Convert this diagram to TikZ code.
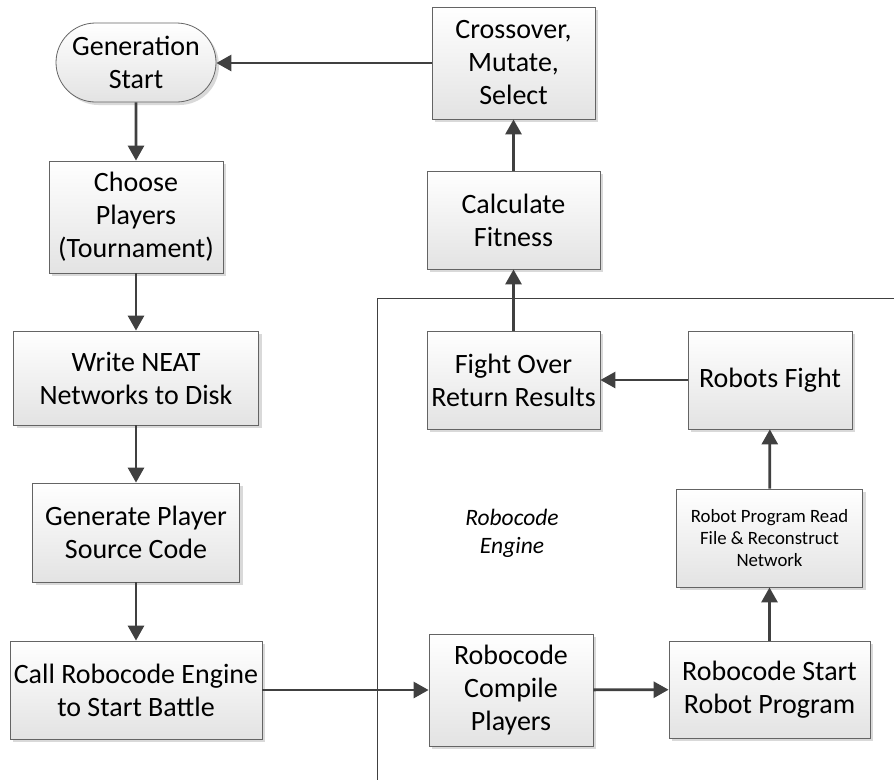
\documentclass[tikz,border=0pt]{standalone}
\usepackage{fontspec}
\setmainfont{Carlito}
\usetikzlibrary{shapes.misc,shadows,arrows.meta}

\definecolor{darkline}{RGB}{64,64,64}
\definecolor{boxline}{RGB}{100,100,100}

\tikzset{
	flowbox/.style={draw=boxline, line width=0.8pt, top color=white, bottom color=gray!22,
		drop shadow={shadow xshift=3pt, shadow yshift=-3pt, fill=black!15, opacity=1},
		align=center, inner sep=2pt, font=\fontsize{28}{33}\selectfont},
	smallbox/.style={flowbox, font=\fontsize{18.8}{22}\selectfont},
	flow/.style={-{Triangle[length=15pt,width=16pt]}, line width=2.8pt, draw=darkline},
}

\begin{document}
\begin{tikzpicture}[x=1pt,y=-1pt]
		\useasboundingbox (0,0) rectangle (894,780);
		% engine boundary
		\draw[line width=0.8pt, color=darkline] (894,298) -- (377,298) -- (377,780);
		\node[align=center, font=\fontsize{23.5}{28}\selectfont\itshape] (engine) at (512,533) {Robocode\\Engine};
		% left column
		\node[flowbox, rounded rectangle, minimum width=164pt, minimum height=79pt] (gen) at (136,62.5) {Generation\\Start};
		\node[flowbox, minimum width=174pt, minimum height=112pt] (choose) at (136,217) {Choose\\Players\\(Tournament)};
		\node[flowbox, minimum width=245pt, minimum height=94pt] (write) at (136,378) {Write NEAT\\Networks to Disk};
		\node[flowbox, minimum width=207pt, minimum height=99pt] (source) at (136,532.5) {Generate Player\\Source Code};
		\node[flowbox, minimum width=252pt, minimum height=98pt] (call) at (136,690) {Call Robocode Engine\\to Start Battle};
		% right part
		\node[flowbox, minimum width=164pt, minimum height=112pt] (compile) at (511,690) {Robocode\\Compile\\Players};
		\node[flowbox, minimum width=201pt, minimum height=97pt] (start) at (769.5,689.5) {Robocode Start\\Robot Program};
		\node[smallbox, minimum width=186pt, minimum height=98pt] (read) at (769.5,538) {Robot Program Read\\File \& Reconstruct\\Network};
		\node[flowbox, minimum width=164pt, minimum height=98pt] (fight) at (770,380) {Robots Fight};
		\node[flowbox, minimum width=173pt, minimum height=98pt] (over) at (513.5,380) {Fight Over\\Return Results};
		\node[flowbox, minimum width=173pt, minimum height=98pt] (fitness) at (513.5,220) {Calculate\\Fitness};
		\node[flowbox, minimum width=163pt, minimum height=112pt] (cross) at (513.5,63) {Crossover,\\Mutate,\\Select};
		% connectors
		\draw[flow] (gen) -- (choose);
		\draw[flow] (choose) -- (write);
		\draw[flow] (write) -- (source);
		\draw[flow] (source) -- (call);
		\draw[flow] (call.east) -- (compile.west |- call.east);
		\draw[flow] (compile) -- (start);
		\draw[flow] (start) -- (read);
		\draw[flow] (read) -- (fight);
		\draw[flow] (fight) -- (over);
		\draw[flow] (over) -- (fitness);
		\draw[flow] (fitness) -- (cross);
		\draw[flow] (cross.west) -- (gen.east |- cross.west);
	\end{tikzpicture}
\end{document}
